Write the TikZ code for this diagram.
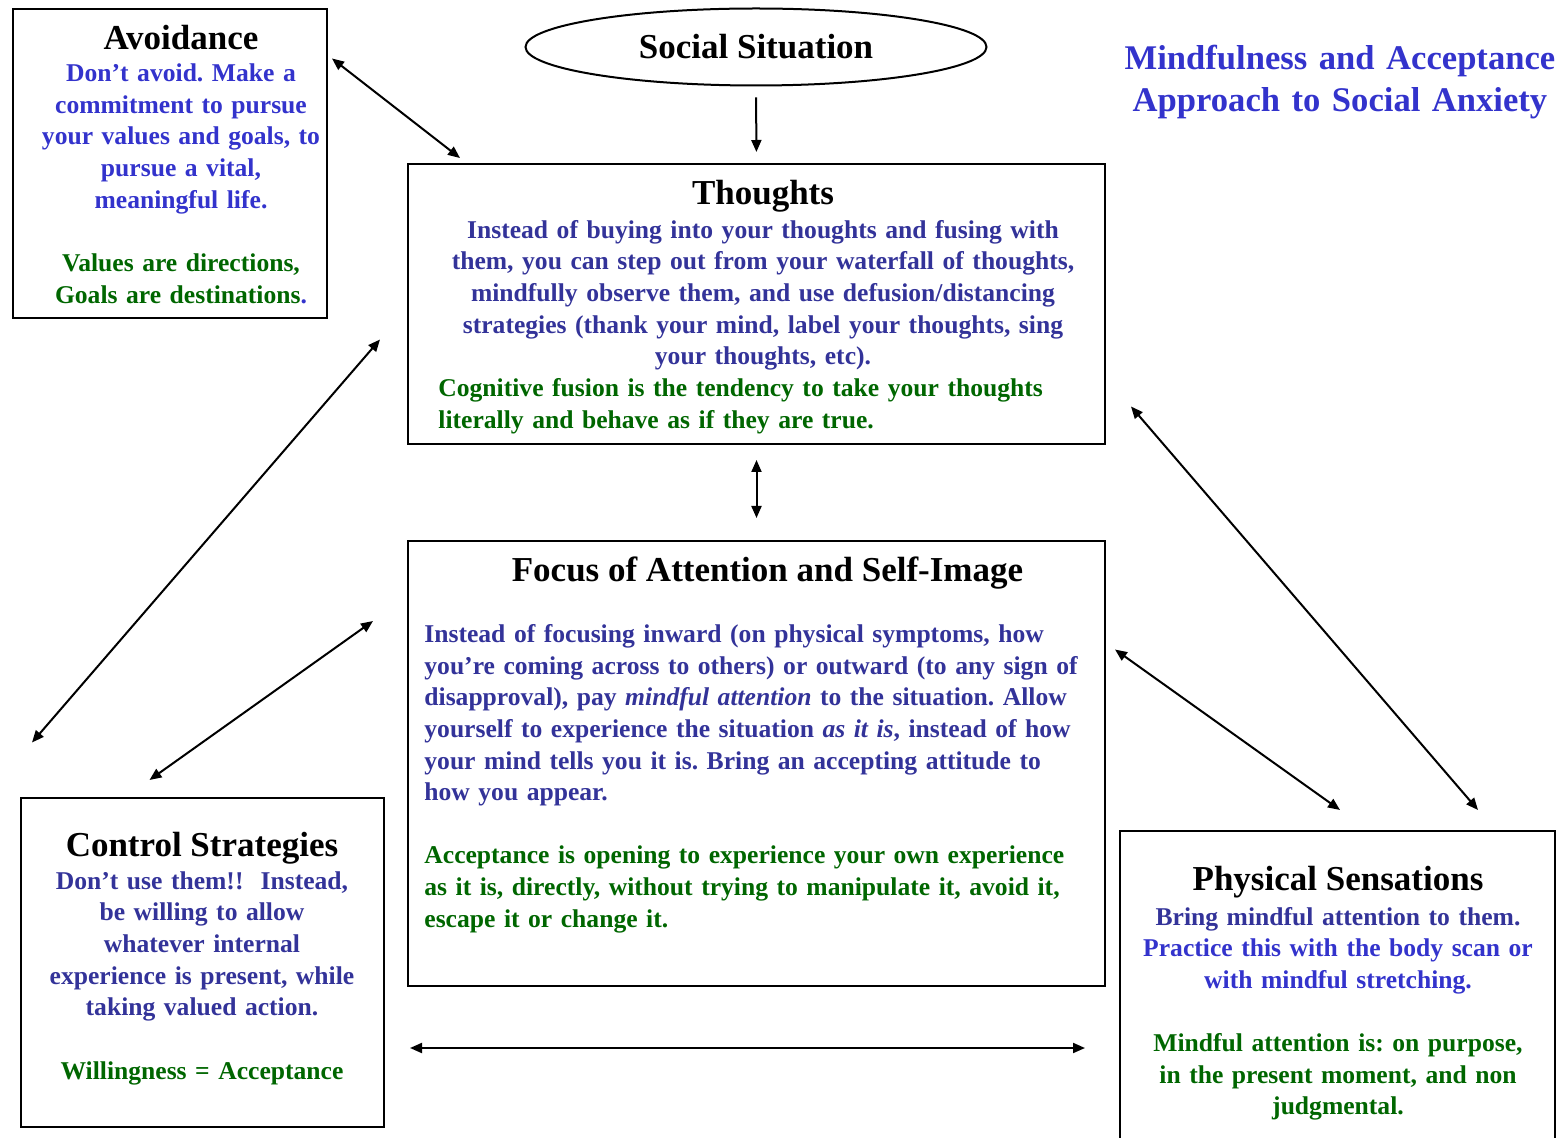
\documentclass[tikz,border=0pt]{standalone}
\usepackage{fontspec}
\setmainfont{Liberation Serif}
\usetikzlibrary{arrows.meta,shapes.geometric}
\definecolor{bleu}{HTML}{3333CC}
\definecolor{bleufonce}{HTML}{333399}
\definecolor{vert}{HTML}{006600}
\frenchspacing

\begin{document}
\begin{tikzpicture}[x=0.5pt,y=-0.5pt]
\tikzset{boite/.style={draw, line width=1pt, inner sep=0pt, anchor=north west},
  titre/.style={font=\fontsize{17.5}{21}\selectfont\bfseries, anchor=base, inner sep=0pt},
  texte/.style={font=\fontsize{12.8}{15.8}\selectfont\bfseries, anchor=base, inner sep=0pt, align=center, text width=#1},
  gauche/.style={font=\fontsize{12.8}{15.8}\selectfont\bfseries, anchor=base west, inner sep=0pt, align=left, text width=345pt},
  fleche/.style={line width=1pt, {Triangle[length=6pt,width=5pt]}-{Triangle[length=6pt,width=5pt]}}}
\useasboundingbox (0,0) rectangle (1558,1138);
\node[boite, minimum width=157pt, minimum height=154.5pt] (avoid) at (12,8) {};
\node[boite, minimum width=348.5pt, minimum height=140pt] (thoughts) at (407,163) {};
\node[boite, minimum width=348.5pt, minimum height=222.5pt] (focus) at (407,540) {};
\node[boite, minimum width=181.5pt, minimum height=164.5pt] (control) at (20,797) {};
\node[boite, minimum width=217.5pt, minimum height=160pt] (physical) at (1119,830) {};
\node[draw, ellipse, line width=1pt, inner sep=0pt, minimum width=230.5pt, minimum height=38.5pt,
  font=\fontsize{17.5}{21}\selectfont\bfseries] (situation) at (756,47) {Social Situation};
\node[anchor=base, inner sep=0pt, align=center, text width=230pt, text=bleu,
  font=\fontsize{17.3}{20.85}\selectfont\bfseries] (maintitle) at (1340,70)
  {Mindfulness and Acceptance\\Approach to Social Anxiety};
\node[titre] (avoidhead) at (181,49.3) {Avoidance};
\node[texte=150pt, text=bleu] (avoidblue) at (181,81.7)
  {Don’t avoid. Make a\\commitment to pursue\\your values and goals, to\\pursue a vital,\\meaningful life.};
\node[texte=150pt, text=vert] (avoidgreen) at (181,271.7)
  {Values are directions,\\Goals are destinations{\color{bleu}.}};
\node[titre] (thoughtshead) at (763,205) {Thoughts};
\node[texte=340pt, text=bleufonce] (thoughtsblue) at (763,238.3)
  {Instead of buying into your thoughts and fusing with\\them, you can step out from your waterfall of thoughts,\\mindfully observe them, and use defusion/distancing\\strategies (thank your mind, label your thoughts, sing\\your thoughts, etc).};
\node[gauche, text=vert] (thoughtsgreen) at (438,396.7)
  {Cognitive fusion is the tendency to take your thoughts\\literally and behave as if they are true.};
\node[titre] (focushead) at (767.5,581.7) {Focus of Attention and Self-Image};
\node[gauche, text=bleufonce] (focusblue) at (424,642.7)
  {Instead of focusing inward (on physical symptoms, how\\you’re coming across to others) or outward (to any sign of\\disapproval), pay \textit{mindful attention} to the situation. Allow\\yourself to experience the situation \textit{as it is}, instead of how\\your mind tells you it is. Bring an accepting attitude to\\how you appear.};
\node[gauche, text=vert] (focusgreen) at (424,863.9)
  {Acceptance is opening to experience your own experience\\as it is, directly, without trying to manipulate it, avoid it,\\escape it or change it.};
\node[titre] (controlhead) at (202,856) {Control Strategies};
\node[texte=170pt, text=bleufonce] (controlblue) at (202,889.3)
  {Don’t use them!!\ \ Instead,\\be willing to allow\\whatever internal\\experience is present, while\\taking valued action.};
\node[texte=170pt, text=vert] (controlgreen) at (202,1079) {Willingness = Acceptance};
\node[titre] (physicalhead) at (1338,890.7) {Physical Sensations};
\node[texte=205pt, text=bleu] (physicalblue) at (1338,925)
  {{\color{bleufonce}Bring mindful attention to them.}\\Practice this with the body scan or\\with mindful stretching.};
\node[texte=205pt, text=vert] (physicalgreen) at (1338,1051.4)
  {Mindful attention is: on purpose,\\in the present moment, and non\\judgmental.};
\coordinate (a1) at (332,58.5);
\coordinate (a2) at (460,158);
\coordinate (b1) at (380,339.5);
\coordinate (b2) at (32,742.5);
\coordinate (c1) at (373,621);
\coordinate (c2) at (149.5,780);
\coordinate (d1) at (1115,649.5);
\coordinate (d2) at (1340,810);
\coordinate (e1) at (1131,406.5);
\coordinate (e2) at (1478,810);
\coordinate (h1) at (410,1048);
\coordinate (h2) at (1085,1048);
\draw[line width=1pt, -{Triangle[length=6pt,width=5pt]}, shorten <=5.5pt, shorten >=5.5pt] (situation.south) -- (thoughts.north);
\draw[fleche, shorten <=7.5pt, shorten >=11pt] (thoughts.south) -- (focus.north);
\draw[fleche] (a1) -- (a2);
\draw[fleche] (b1) -- (b2);
\draw[fleche] (c1) -- (c2);
\draw[fleche] (d1) -- (d2);
\draw[fleche] (e1) -- (e2);
\draw[fleche] (h1) -- (h2);
\end{tikzpicture}
\end{document}
